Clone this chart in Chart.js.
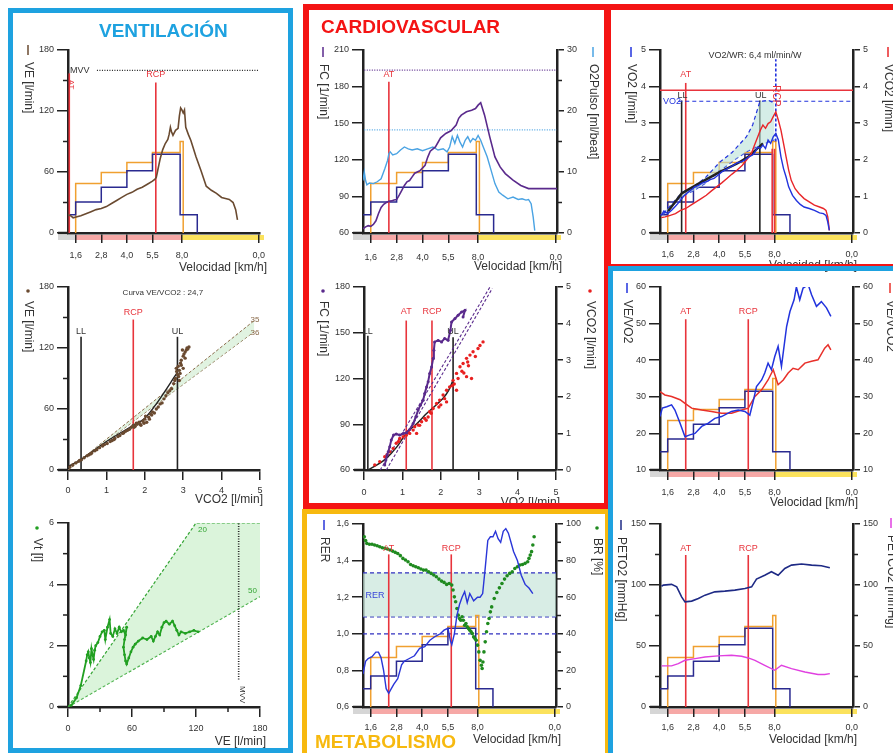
<!DOCTYPE html>
<html lang="es">
<head>
<meta charset="utf-8">
<title>Ergoespirometría - 9 paneles</title>
<script src="https://cdn.jsdelivr.net/npm/chart.js@4.4.1/dist/chart.umd.min.js"></script>
<style>
  html, body { margin: 0; padding: 0; background: #fff; }
  body { position: relative; width: 893px; height: 753px; overflow: hidden; font-family: "Liberation Sans", Arial, sans-serif; }
  canvas { position: absolute; }
  .marco { position: absolute; box-sizing: border-box; z-index: 5; }
  .titulo { position: absolute; font-size: 19px; font-weight: bold; line-height: 19px; white-space: nowrap; z-index: 6; }
</style>
</head>
<body>
<div class="marco" style="left:8px;top:8px;width:285px;height:745px;border:5px solid #1ea2e0;"></div>
<div class="marco" style="left:303px;top:4px;width:307px;height:505px;border:6px solid #f41414;"></div>
<div class="marco" style="left:302px;top:509px;width:308px;height:260px;border:5px solid #f7b90f;"></div>
<div class="marco" style="left:605px;top:4px;width:300px;height:266px;border:6px solid #f41414;"></div>
<div class="marco" style="left:608px;top:266px;width:300px;height:500px;border:5px solid #1ea2e0;"></div>
<div class="titulo" style="left:99px;top:21px;color:#1ea2e0">VENTILACIÓN</div>
<div class="titulo" style="left:321px;top:17px;color:#f41414">CARDIOVASCULAR</div>
<div class="titulo" style="left:315px;top:732px;color:#f7b90f">METABOLISMO</div>

<script>
// ============================
// Colores y fuente
// ============================
const FUENTE = '"Liberation Sans", Arial, sans-serif';
const NEGRO = '#222';
const GRIS = '#333';
const ROJO = '#e8343c';
const AZUL = '#2233dd';
const NAVY = '#2a2a90';
const NARANJA = '#f0a030';
const MARRON = '#6a4a30';
const MORADO = '#5a2a8c';
const CELESTE = '#4aa3e3';
const VERDE = '#1f8a1f';
const VERDE_VT = '#22a022';
const MAGENTA = '#e040e0';

Chart.defaults.font.family = FUENTE;
Chart.defaults.color = GRIS;
Chart.defaults.events = [];

// ============================
// Eje de tiempo compartido (etapas de velocidad)
// ============================
const etapas = ['1,6', '2,8', '4,0', '5,5', '8,0', '0,0'];
const posEtapas = [0.3, 1.3, 2.3, 3.3, 4.45, 7.45];

const tAT = 1.0;
const tRCP = 3.43;
const tLL = 0.84;
const tUL = 3.88;

// escalones del protocolo, en fracción de la altura del eje
const pasoAzulT = [0, 0.3, 1.3, 2.3, 3.3, 4.38, 5.05];
const pasoAzul = [0.1, 0.17, 0.25, 0.34, 0.43, 0.1, 0];
const pasoNaranjaT = [0.3, 0.3, 1.3, 2.3, 3.3, 4.38, 4.5];
const pasoNaranja = [0, 0.27, 0.33, 0.385, 0.44, 0.5, 0];

// ============================
// Datos - VENTILACIÓN
// ============================
const veT = [0, 0.1, 0.2, 0.35, 0.5, 0.7, 0.9, 1.1, 1.3, 1.5, 1.7, 1.9, 2.1, 2.3, 2.5, 2.7, 2.9, 3.1, 3.3, 3.4,
  3.45, 3.5, 3.55, 3.6, 3.7, 3.8, 3.9, 3.95, 4.0, 4.05, 4.1, 4.2, 4.3, 4.35, 4.4, 4.45, 4.5, 4.55, 4.6, 4.7,
  4.8, 5.0, 5.2, 5.4, 5.6, 5.8, 6.0, 6.15, 6.3, 6.45, 6.55, 6.62];
const ve = [18, 17, 15, 16, 17, 19, 21, 23, 24, 26, 29, 32, 35, 38, 40, 43, 45, 48, 51, 53,
  55, 61, 67, 73, 82, 88, 92, 97, 104, 99, 96, 101, 103, 115, 123, 121, 118, 121, 104, 97,
  91, 75, 61, 46, 42, 39, 35, 34, 33, 30, 23, 13];

const vco2Nube = [0.05, 0.12, 0.2, 0.28, 0.35, 0.42, 0.5, 0.55, 0.62, 0.7, 0.75, 0.82, 0.9, 0.95, 1.02,
  1.1, 1.15, 1.22, 1.3, 1.35, 1.42, 1.5, 1.55, 1.6, 1.65, 1.7, 1.75, 1.8, 1.85, 1.9,
  1.95, 2.0, 2.05, 2.1, 2.15, 2.2, 2.3, 2.4, 2.5, 2.55, 2.6, 2.7, 2.75, 2.8, 2.85,
  2.9, 2.82, 2.95, 3.0, 2.88, 2.95, 3.0, 3.05, 2.98, 3.1, 3.15, 3.05, 2.92,
  0.3, 0.6, 0.9, 1.2, 1.45, 1.72, 1.78, 1.88, 1.98, 2.02, 2.12, 2.18, 2.25, 2.35, 2.45,
  2.65, 2.78, 2.83, 2.87, 2.9, 2.93, 3.02, 3.08, 3.12];
const veNube = [3, 5, 7, 8.5, 10, 12, 14, 15, 17, 19, 20, 22, 23.5, 25, 26,
  28, 29, 31, 33, 34, 36, 38, 39, 40, 42, 44, 43, 45, 47, 44,
  48, 50, 47, 52, 55, 57, 60, 65, 70, 73, 76, 80, 85, 90, 94,
  98, 100, 103, 100, 92, 108, 112, 116, 118, 120, 121, 110, 95,
  9.5, 16, 24.5, 30, 36.5, 42, 46, 45, 46, 53, 50, 54, 56, 62, 66,
  78, 88, 97, 102, 88, 105, 114, 118, 119];
const curvaVcoX = [0, 0.39, 1.0, 1.7, 2.0, 2.3, 2.83];
const curvaVcoY = [3.3, 11.5, 28, 44, 51, 65, 95];
const banda35X = [0, 4.85];
const banda35Y = [0, 147];
const banda36X = [0, 4.85];
const banda36Y = [0, 136];

const vtVE = [3, 8, 12, 17, 18, 19, 20, 21, 22, 23, 24, 25, 26, 28, 30, 32, 34, 35, 37, 39,
  40, 42, 44, 46, 48, 50, 52, 54, 55, 53, 52, 53, 54, 55, 57, 59, 61, 63, 66, 70,
  74, 78, 80, 82, 84, 86, 88, 90, 92, 95, 98, 100, 102, 104, 106, 110, 114, 118, 122];
const vt = [0.05, 0.3, 0.7, 1.5, 1.7, 1.8, 1.6, 1.45, 1.9, 1.7, 1.55, 1.85, 2.0, 2.1, 2.3, 2.45, 2.5, 2.2, 2.6, 2.85,
  2.4, 2.3, 2.55, 2.4, 2.6, 2.45, 2.5, 2.35, 2.6, 2.2, 1.95, 1.7, 1.5, 1.4, 1.6, 1.8, 1.95, 2.05, 2.15, 2.25,
  2.2, 2.3, 2.15, 2.3, 2.45, 2.35, 2.6, 2.75, 2.8, 2.7, 2.8, 2.65, 2.5, 2.35, 2.45, 2.4, 2.45, 2.5, 2.45];
const iso20X = [0, 120, 180];
const iso20Y = [0, 6, 6];
const iso50X = [0, 180];
const iso50Y = [0, 3.6];

// ============================
// Datos - CARDIOVASCULAR
// ============================
const fcT = [0, 0.1, 0.2, 0.3, 0.4, 0.5, 0.6, 0.7, 0.8, 0.9, 1.0, 1.1, 1.2, 1.3, 1.4, 1.5, 1.6, 1.7, 1.8, 1.9,
  2.0, 2.2, 2.4, 2.5, 2.6, 2.8, 3.0, 3.2, 3.4, 3.6, 3.7, 3.8, 4.0, 4.2, 4.35, 4.45, 4.55, 4.7, 4.9, 5.1,
  5.3, 5.5, 5.8, 6.1, 6.4, 6.6, 7.0, 7.5];
const fc = [63.5, 65, 66, 65.5, 67, 70, 76, 81, 83.5, 85, 86, 86.3, 87, 87.4, 91, 95, 99, 102, 103, 106,
  109, 111, 115.5, 122, 127, 130.6, 138, 141.6, 143.8, 148.4, 154, 156.6, 159.4, 160.7, 162, 164.8, 166.8, 156.6, 138.8, 122.4,
  114.2, 108.7, 103.3, 99, 96.4, 96.4, 96.4, 96.4];

const o2T = [0, 0.05, 0.1, 0.15, 0.25, 0.4, 0.55, 0.7, 0.85, 0.95, 1.0, 1.05, 1.15, 1.3, 1.45, 1.6, 1.75, 1.9, 2.1, 2.3,
  2.5, 2.7, 2.9, 3.1, 3.25, 3.35, 3.45, 3.55, 3.65, 3.75, 3.85, 3.95, 4.05, 4.15, 4.25, 4.35, 4.45, 4.55, 4.65, 4.8,
  4.95, 5.1, 5.25, 5.4, 5.6, 5.8, 6.0, 6.15, 6.3, 6.4, 6.5, 6.58, 6.64];
const o2Pulso = [8.6, 10, 8.6, 7.9, 8.2, 8.1, 8.4, 8.9, 10.6, 11.9, 13, 13.3, 12.8, 13, 13.6, 14.1, 13.8, 13.6, 13.8, 13.5,
  13.8, 14.1, 13.6, 13.8, 13.3, 14.1, 15.8, 14.7, 16, 14.9, 14.1, 15.2, 15.8, 14.9, 15.5, 15.2, 16, 15.2, 14.1, 12.5,
  10.3, 8.1, 6.7, 6.2, 5.6, 5.9, 5.5, 5.6, 5.4, 5.5, 4.8, 2.6, 0.4];
const fcMax = 193.5;
const o2PulsoPred = 16.9;

const fcVo2 = [0.54, 0.57, 0.6, 0.63, 0.67, 0.71, 0.77, 0.84, 0.93, 1.02, 1.1, 1.19, 1.28, 1.35, 1.41, 1.47, 1.54, 1.58,
  1.63, 1.67, 1.71, 1.76, 1.8, 1.82, 1.84, 1.93, 2.02, 2.1, 2.19, 2.25, 2.28, 2.37, 2.45, 2.54, 2.63, 2.58];
const fcNube = [63.3, 66.5, 69.8, 72, 75.3, 79.6, 82.9, 83.6, 82.9, 84, 84.4, 86.6, 90.5, 94.9, 99.3, 102.5, 105.8, 110.2,
  114.5, 117.8, 123.3, 127.6, 133.1, 138.5, 144, 145, 144, 146.2, 145.1, 151.6, 157.1, 159.3, 161.5, 163.6, 164.7, 160.4];
const vcVo2 = [0.28, 0.41, 0.54, 0.67, 0.76, 0.84, 0.93, 1.02, 1.1, 1.19, 1.28, 1.32, 1.41, 1.5, 1.58, 1.67, 1.71, 1.8,
  1.89, 1.97, 2.06, 2.15, 2.23, 2.32, 2.41, 2.5, 2.58, 2.67, 2.76, 2.84, 2.97, 3.1, 2.67, 2.8, 2.41, 2.15, 1.37,
  0.6, 0.9, 1.15, 1.45, 1.62, 1.75, 1.95, 2.1, 2.3, 2.45, 2.55, 2.7, 2.9, 3.02, 2.6, 2.72, 2.35, 2.0];
const vcNube = [0.14, 0.23, 0.36, 0.5, 0.59, 0.73, 0.86, 0.91, 0.95, 1.0, 1.09, 1.18, 1.23, 1.32, 1.41, 1.45, 1.59, 1.68,
  1.82, 1.91, 2.05, 2.18, 2.27, 2.45, 2.64, 2.82, 2.91, 3.05, 3.14, 3.23, 3.32, 3.5, 2.55, 2.5, 2.18, 1.86, 1.0,
  0.42, 0.78, 1.05, 1.22, 1.36, 1.55, 1.72, 1.95, 2.3, 2.5, 2.7, 2.95, 3.1, 3.4, 2.65, 2.85, 2.35, 1.78];
const curvaFcX = [0.1, 0.35, 0.58, 0.85, 1.1, 1.4, 1.63, 1.85, 2.06, 2.2, 2.32];
const curvaFcY = [60, 63.5, 67.6, 75, 84, 91, 97, 102, 107, 112, 119];
const rectaAX = [0.42, 3.28];
const rectaAY = [60, 180];
const rectaBX = [0.58, 3.34];
const rectaBY = [60, 179];

// ============================
// Datos - METABOLISMO
// ============================
const rerT = [0, 0.1, 0.2, 0.35, 0.5, 0.6, 0.7, 0.8, 0.9, 1.0, 1.1, 1.2, 1.35, 1.5, 1.6, 1.8, 2.0, 2.2, 2.4, 2.6,
  2.8, 3.0, 3.15, 3.3, 3.4, 3.45, 3.55, 3.65, 3.75, 3.85, 3.95, 4.05, 4.15, 4.3, 4.45, 4.55, 4.65, 4.75, 4.85, 4.95,
  5.05, 5.15, 5.25, 5.35, 5.45, 5.55, 5.65, 5.75, 5.85, 6.0, 6.15, 6.3, 6.45, 6.6];
const rer = [0.78, 0.85, 0.865, 0.875, 0.9, 0.9, 0.87, 0.8, 0.7, 0.675, 0.7, 0.725, 0.755, 0.83, 0.85, 0.865, 0.88, 0.92, 0.93, 0.965,
  0.985, 1.0, 1.02, 1.03, 0.96, 0.94, 1.0, 1.1, 1.16, 1.2, 1.23, 1.17, 1.22, 1.18, 1.2, 1.2, 1.22, 1.36, 1.51, 1.53,
  1.53, 1.56, 1.52, 1.5, 1.56, 1.575, 1.55, 1.5, 1.45, 1.4, 1.32, 1.27, 1.25, 1.22];
const brT = [0.05, 0.1, 0.15, 0.25, 0.35, 0.45, 0.55, 0.65, 0.75, 0.85, 0.95, 1.05, 1.15, 1.25, 1.35, 1.45, 1.55, 1.65,
  1.75, 1.85, 1.95, 2.05, 2.15, 2.25, 2.35, 2.45, 2.55, 2.65, 2.75, 2.85, 2.95, 3.05, 3.15, 3.25, 3.35, 3.45,
  3.5, 3.55, 3.6, 3.65, 3.7, 3.75, 3.8, 3.85, 3.9, 3.95, 4.0, 4.05, 4.1, 4.15, 4.2, 4.25, 4.3, 4.35, 4.4,
  4.45, 4.5, 4.55, 4.6, 4.63, 4.66, 4.7, 4.75, 4.8, 4.85, 4.9, 4.95, 5.0, 5.1, 5.2, 5.3, 5.4, 5.5, 5.6, 5.7,
  5.8, 5.9, 6.0, 6.1, 6.2, 6.3, 6.4, 6.45, 6.5, 6.55, 6.6, 6.65];
const br = [93, 91, 89.4, 88.9, 88.9, 88.5, 88.1, 87.6, 87, 86.7, 86.3, 85.8, 85.2, 84.5, 83.9, 82.7, 81.2, 80.3,
  79.4, 77.9, 77.2, 76.6, 76.1, 75.4, 74.8, 74.8, 73.9, 73, 72.1, 71.2, 69.9, 68.8, 68.1, 67, 67.5, 66.6,
  63.9, 60.2, 57.5, 53.8, 50.2, 48.4, 47.4, 49.3, 47.4, 44.7, 45.6, 43.8, 42.9, 42, 41.1, 40.1, 38.3, 37.4, 36.5,
  33.8, 30.1, 25.5, 22.8, 21, 24.6, 30.1, 35.6, 41.1, 45.6, 48.4, 52, 54.7, 59.3, 62.6, 65.1, 67.5, 69.9, 71.7, 73,
  73.9, 75.7, 76.6, 77.6, 77.9, 78.5, 79.4, 81.2, 83, 84.9, 88.5, 93];
const rerAlto = 1.333;
const rerMedio = 1.093;
const rerUno = 1.0;

// ============================
// Datos - VO2 / VCO2 y equivalentes
// ============================
const vo2T = [0.05, 0.15, 0.3, 0.45, 0.6, 0.75, 0.9, 1.05, 1.2, 1.35, 1.5, 1.65, 1.8, 1.95, 2.1, 2.25, 2.4, 2.55, 2.7, 2.85,
  3.0, 3.15, 3.3, 3.45, 3.6, 3.7, 3.8, 3.9, 4.0, 4.1, 4.2, 4.3, 4.4, 4.5, 4.6, 4.7, 4.8, 4.9, 5.0, 5.15,
  5.3, 5.45, 5.6, 5.8, 6.0, 6.2, 6.35, 6.45, 6.52, 6.58];
const vo2 = [0.48, 0.6, 0.53, 0.62, 0.73, 0.85, 0.99, 1.09, 1.17, 1.26, 1.3, 1.37, 1.4, 1.46, 1.49, 1.58, 1.67, 1.73, 1.79, 1.85,
  1.92, 1.94, 2.0, 2.08, 2.13, 2.22, 2.35, 2.31, 2.4, 2.31, 2.54, 2.45, 2.63, 2.72, 2.54, 2.08, 1.76, 1.53, 1.26, 1.03,
  0.89, 0.78, 0.71, 0.67, 0.62, 0.55, 0.53, 0.48, 0.3, 0.07];
const vco2T = [0.05, 0.2, 0.4, 0.6, 0.8, 1.0, 1.2, 1.4, 1.6, 1.8, 2.0, 2.2, 2.4, 2.6, 2.8, 3.0, 3.2, 3.4, 3.55, 3.7,
  3.8, 3.9, 4.0, 4.1, 4.2, 4.3, 4.4, 4.5, 4.6, 4.7, 4.8, 4.9, 5.0, 5.1, 5.25, 5.4, 5.6, 5.8, 6.0, 6.2,
  6.35, 6.45, 6.52, 6.58];
const vco2 = [0.42, 0.44, 0.48, 0.53, 0.62, 0.67, 0.76, 0.85, 0.94, 1.03, 1.15, 1.26, 1.37, 1.49, 1.61, 1.72, 1.85, 2.03, 2.17, 2.45,
  2.63, 2.81, 2.95, 2.86, 2.99, 3.04, 3.18, 3.31, 3.08, 2.81, 2.45, 2.08, 1.72, 1.44, 1.21, 1.08, 0.94, 0.85, 0.76, 0.71,
  0.67, 0.62, 0.44, 0.07];
const predSupT = [0.13, 0.84, 1.29, 1.75, 2.33, 2.8, 3.36, 3.6, 3.88, 4.2, 4.45];
const predSup = [0.53, 1.1, 1.26, 1.5, 1.94, 2.2, 2.63, 2.95, 3.59, 3.63, 3.55];
const predInfT = [0.13, 0.84, 1.29, 1.75, 2.33, 2.8, 3.36, 3.6, 3.88, 4.2, 4.45];
const predInf = [0.5, 1.0, 1.15, 1.35, 1.7, 1.95, 2.22, 2.3, 2.4, 2.48, 2.55];
const regT = [0.32, 0.84, 1.5, 2.33, 3.0, 3.43, 4.0];
const reg = [0.6, 1.08, 1.35, 1.67, 1.9, 2.08, 2.45];
const vo2Max = 3.9;
const vo2Pred = 3.6;

const eqO2T = [0, 0.09, 0.26, 0.45, 0.58, 0.78, 0.97, 1.16, 1.36, 1.62, 1.88, 2.13, 2.39, 2.78, 3.04, 3.3, 3.49, 3.62, 3.75,
  3.95, 4.07, 4.2, 4.33, 4.46, 4.59, 4.72, 4.92, 5.05, 5.21, 5.3, 5.43, 5.56, 5.76, 5.89, 6.08, 6.27, 6.47, 6.64];
const eqO2 = [24.6, 26.9, 27.3, 27.8, 26.4, 22.8, 19.1, 19.6, 20, 21.9, 22.8, 24.1, 24.6, 26, 26.4, 26, 25, 28.7, 32.8,
  34.6, 36.5, 39.2, 37.4, 41, 43.8, 38.3, 49.2, 53.3, 56.5, 60, 56.5, 59.7, 60.6, 57.9, 54.7, 56, 54.3, 52];
const eqCO2T = [0, 0.19, 0.45, 0.78, 0.97, 1.23, 1.62, 2.0, 2.39, 2.78, 3.17, 3.43, 3.69, 3.95, 4.2, 4.4, 4.59, 4.79,
  4.98, 5.17, 5.37, 5.63, 5.89, 6.14, 6.4, 6.53, 6.64];
const eqCO2 = [31.4, 30.5, 30.1, 29.2, 28.2, 26.9, 26.4, 26, 25.5, 25.5, 26.4, 26.9, 30.1, 31.9, 34.6, 37.4, 33.3, 34.6,
  36.5, 37.8, 37.4, 39.2, 39.7, 40.1, 43.3, 44.2, 42.8];

const peto2T = [0.06, 0.13, 0.45, 0.65, 0.84, 0.97, 1.23, 1.49, 1.75, 2.13, 2.52, 2.91, 3.3, 3.56, 3.75, 4.07, 4.33, 4.59,
  4.85, 5.11, 5.5, 5.89, 6.27, 6.6];
const peto2 = [99, 99.9, 100.5, 98.5, 90.3, 86.2, 86.8, 89, 91.7, 94.4, 95, 95.8, 97.2, 98.5, 104.8, 108, 110.9, 108,
  113.6, 116.3, 117.2, 116.3, 115.8, 114.2];
const petco2T = [0.06, 0.45, 0.71, 0.97, 1.36, 1.75, 2.26, 2.78, 3.17, 3.43, 3.69, 4.07, 4.46, 4.72, 5.11, 5.63, 6.14, 6.4, 6.6];
const petco2 = [33.7, 33.7, 35.6, 38.3, 39.7, 41, 41.9, 42.4, 41.6, 40.2, 38.3, 34.2, 30.1, 34.2, 31.5, 28.7, 26.6, 26.6, 27.4];

// ============================
// Ayudas para datasets
// ============================
function pares(xs, ys) {
  return xs.map((x, i) => ({x: x, y: ys[i]}));
}

function traza(xs, ys, color, extra) {
  return Object.assign({
    data: pares(xs, ys), borderColor: color, borderWidth: 1.4,
    pointRadius: 0, fill: false, tension: 0
  }, extra);
}

function nube(xs, ys, color, extra) {
  return Object.assign({
    data: pares(xs, ys), showLine: false, borderColor: color,
    pointRadius: 1.6, pointBackgroundColor: color, pointBorderWidth: 0
  }, extra);
}

function vertical(x, y0, y1, color, eje, dash) {
  return traza([x, x], [y0, y1], color, {borderWidth: 1.6, yAxisID: eje || 'y', borderDash: dash || []});
}

function horizontal(x0, x1, y, color, dash, eje, extra) {
  return traza([x0, x1], [y, y], color, Object.assign({borderWidth: 1.2, yAxisID: eje || 'y', borderDash: dash || []}, extra));
}

function escalones() {
  return [
    traza(pasoAzulT, pasoAzul, NAVY, {stepped: true, yAxisID: 'yp', borderWidth: 1.5}),
    traza(pasoNaranjaT, pasoNaranja, NARANJA, {stepped: true, yAxisID: 'yp', borderWidth: 1.5})
  ];
}

// ============================
// Ejes
// ============================
function fmtComa(v) {
  return String(Math.round(v * 100) / 100).replace('.', ',');
}

function fmtUnDecimal(v) {
  return v.toFixed(1).replace('.', ',');
}

function ejeY(pos, min, max, paso, fmt) {
  const izq = pos === 'left';
  return {
    type: 'linear', position: pos, min: min, max: max,
    grid: {drawOnChartArea: false, color: NEGRO, lineWidth: 1.5, tickLength: izq ? 11 : 7},
    border: {display: true, color: NEGRO, width: 2.5},
    ticks: {stepSize: paso, padding: 3, color: GRIS, font: {size: 9}, callback: fmt || fmtComa}
  };
}

function ejeX(min, max, paso, pad) {
  return {
    type: 'linear', position: 'bottom', min: min, max: max,
    grid: {drawOnChartArea: false, color: NEGRO, lineWidth: 1.5, tickLength: 10},
    border: {display: true, color: NEGRO, width: 2.5},
    ticks: {stepSize: paso, padding: pad, color: GRIS, font: {size: 9}, maxRotation: 0, autoSkip: false, callback: fmtComa}
  };
}

function ejeTiempo(pad) {
  const e = ejeX(0, 7.5, 1, pad);
  e.afterBuildTicks = s => { s.ticks = posEtapas.map(v => ({value: v})); };
  e.ticks.callback = (v, i) => etapas[i];
  return e;
}

function ejeOculto() {
  return {type: 'linear', display: false, min: 0, max: 1};
}

// ============================
// Plugin: banda de etapas, marcas menores, textos y títulos
// ============================
const decor = {
  id: 'decor',
  beforeDraw(chart, args, o) {
    const ctx = chart.ctx, a = chart.chartArea;
    ctx.save();
    if (o.banda) {
      const sx = chart.scales.x;
      const x1 = sx.getPixelForValue(posEtapas[0]);
      const x2 = sx.getPixelForValue(posEtapas[4]);
      const y = a.bottom + 2;
      ctx.fillStyle = '#d6d6d6';
      ctx.fillRect(a.left - 10, y, x1 - a.left + 10, 5);
      ctx.fillStyle = '#f6a8a6';
      ctx.fillRect(x1, y, x2 - x1, 5);
      ctx.fillStyle = '#fbe25c';
      ctx.fillRect(x2, y, a.right + 4 - x2, 5);
    }
    // el eje x sobresale un poco a la izquierda
    ctx.strokeStyle = NEGRO;
    ctx.lineWidth = 2.5;
    ctx.beginPath();
    ctx.moveTo(a.left - 10, a.bottom);
    ctx.lineTo(a.left, a.bottom);
    ctx.stroke();
    ctx.restore();
  },
  afterDatasetsDraw(chart, args, o) {
    const ctx = chart.ctx;
    (o.textos || []).forEach(t => {
      const px = chart.scales.x.getPixelForValue(t.x);
      const py = chart.scales[t.eje || 'y'].getPixelForValue(t.y);
      ctx.save();
      ctx.font = (t.tam || 9) + 'px ' + FUENTE;
      ctx.fillStyle = t.color || GRIS;
      ctx.textAlign = t.alinear || 'center';
      ctx.textBaseline = 'middle';
      ctx.translate(px, py);
      if (t.girar) ctx.rotate(Math.PI / 2);
      ctx.fillText(t.texto, 0, 0);
      ctx.restore();
    });
  },
  afterDraw(chart, args, o) {
    const ctx = chart.ctx, a = chart.chartArea;
    ctx.save();
    ctx.strokeStyle = NEGRO;
    ctx.lineWidth = 1.5;
    (o.menores || []).forEach(m => {
      const s = chart.scales[m.eje];
      for (let v = s.min; v <= s.max + 1e-9; v += m.paso) {
        const r = v / m.mayor;
        if (Math.abs(r - Math.round(r)) < 1e-6) continue;
        const p = s.getPixelForValue(v);
        ctx.beginPath();
        if (s.axis === 'x') { ctx.moveTo(p, a.bottom); ctx.lineTo(p, a.bottom + 5); }
        else if (s.position === 'left') { ctx.moveTo(a.left - 5, p); ctx.lineTo(a.left, p); }
        else { ctx.moveTo(a.right, p); ctx.lineTo(a.right + 5, p); }
        ctx.stroke();
      }
    });
    ctx.restore();

    (o.titulos || []).forEach(t => {
      const x = t.x - o.caja[0], y = t.y - o.caja[1];
      ctx.save();
      ctx.font = '12px ' + FUENTE;
      ctx.textBaseline = 'middle';
      if (t.vertical) {
        ctx.translate(x, y);
        ctx.rotate(Math.PI / 2);
        let pos = 0;
        if (t.marca === 'linea') {
          ctx.strokeStyle = t.color;
          ctx.lineWidth = 1.5;
          ctx.beginPath();
          ctx.moveTo(0, 0);
          ctx.lineTo(10, 0);
          ctx.stroke();
          pos = 17;
        } else if (t.marca === 'punto') {
          ctx.fillStyle = t.color;
          ctx.beginPath();
          ctx.arc(4, 0, 1.8, 0, 2 * Math.PI);
          ctx.fill();
          pos = 14;
        }
        ctx.fillStyle = GRIS;
        ctx.textAlign = 'left';
        ctx.fillText(t.texto, pos, 0);
      } else {
        ctx.fillStyle = GRIS;
        ctx.textAlign = 'right';
        ctx.fillText(t.texto, x, y);
      }
      ctx.restore();
    });
  }
};

// ============================
// Creación de cada panel
// caja = lienzo en la página, area = zona de trazado
// ============================
function crearPanel(caja, area, escalas, datasets, opts) {
  const lienzo = document.createElement('canvas');
  const ancho = caja[2] - caja[0], alto = caja[3] - caja[1];
  lienzo.width = ancho;
  lienzo.height = alto;
  lienzo.style.left = caja[0] + 'px';
  lienzo.style.top = caja[1] + 'px';
  lienzo.style.width = ancho + 'px';
  lienzo.style.height = alto + 'px';
  document.body.appendChild(lienzo);

  escalas.x.afterFit = s => { s.height = caja[3] - area[3]; };
  escalas.y.afterFit = s => { s.width = area[0] - caja[0]; };
  if (escalas.y2) escalas.y2.afterFit = s => { s.width = caja[2] - area[2]; };

  opts.caja = caja;
  return new Chart(lienzo, {
    type: 'line',
    data: {datasets: datasets},
    options: {
      responsive: false,
      animation: false,
      devicePixelRatio: 1,
      layout: {
        autoPadding: false,
        padding: {top: area[1] - caja[1], left: 0, bottom: 0, right: escalas.y2 ? 0 : caja[2] - area[2]}
      },
      scales: escalas,
      plugins: {legend: {display: false}, tooltip: {enabled: false}, decor: opts}
    },
    plugins: [decor]
  });
}

// ---- VE en el tiempo
crearPanel([14, 36, 292, 276], [68, 50, 260, 233],
  {x: ejeTiempo(7), y: ejeY('left', 0, 180, 60), yp: ejeOculto()},
  [
    traza(veT, ve, MARRON, {borderWidth: 1.6}),
    vertical(tRCP, 0, 148, ROJO),
    vertical(0.05, 0, 157, ROJO),
    horizontal(1.13, 7.45, 160, NEGRO, [1, 1.5]),
    ...escalones()
  ],
  {
    banda: true,
    menores: [{eje: 'y', paso: 30, mayor: 60}],
    textos: [
      {x: tRCP, y: 156, texto: 'RCP', color: ROJO},
      {x: 0.08, y: 160, texto: 'MVV', alinear: 'left'},
      {x: 0.12, y: 146, texto: 'AT', color: ROJO, girar: true, tam: 8}
    ],
    titulos: [
      {x: 28, y: 45, texto: 'VE [l/min]', marca: 'linea', color: MARRON, vertical: true},
      {x: 267, y: 268, texto: 'Velocidad [km/h]'}
    ]
  });

// ---- VE frente a VCO2
crearPanel([14, 278, 292, 508], [68, 287, 260, 470],
  {x: ejeX(0, 5, 1, 5), y: ejeY('left', 0, 180, 60)},
  [
    nube(vco2Nube, veNube, MARRON, {pointRadius: 1.7}),
    traza(curvaVcoX, curvaVcoY, NEGRO, {borderWidth: 1.4, tension: 0.3}),
    vertical(0.34, 0, 131, NEGRO),
    vertical(1.7, 0, 148, ROJO),
    vertical(2.85, 0, 131, NEGRO),
    traza(banda35X, banda35Y, '#8a6a4a', {borderDash: [3, 2], borderWidth: 1, fill: '+1', backgroundColor: 'rgba(205,235,205,0.6)'}),
    traza(banda36X, banda36Y, '#8a6a4a', {borderDash: [3, 2], borderWidth: 1})
  ],
  {
    menores: [{eje: 'y', paso: 30, mayor: 60}],
    textos: [
      {x: 2.47, y: 174, texto: 'Curva VE/VCO2 : 24,7', tam: 8},
      {x: 0.34, y: 136, texto: 'LL'},
      {x: 1.7, y: 155, texto: 'RCP', color: ROJO},
      {x: 2.85, y: 136, texto: 'UL'},
      {x: 4.87, y: 148, texto: '35', color: '#8a6a4a', tam: 8},
      {x: 4.87, y: 135, texto: '36', color: '#8a6a4a', tam: 8}
    ],
    titulos: [
      {x: 28, y: 287, texto: 'VE [l/min]', marca: 'punto', color: MARRON, vertical: true},
      {x: 263, y: 500, texto: 'VCO2 [l/min]'}
    ]
  });

// ---- Vt frente a VE
crearPanel([14, 512, 292, 750], [68, 523, 260, 707],
  {x: ejeX(0, 180, 60, 6), y: ejeY('left', 0, 6, 2)},
  [
    traza(vtVE, vt, VERDE_VT, {borderWidth: 1.8, pointRadius: 1.4, pointBackgroundColor: VERDE_VT, pointBorderWidth: 0}),
    vertical(160, 0.9, 6, NEGRO, 'y', [1, 1.5]),
    traza(iso20X, iso20Y, '#35a535', {borderDash: [3, 2], borderWidth: 1.2, fill: '+1', backgroundColor: 'rgba(190,235,190,0.55)'}),
    traza(iso50X, iso50Y, '#35a535', {borderDash: [3, 2], borderWidth: 1.2})
  ],
  {
    menores: [{eje: 'y', paso: 1, mayor: 2}, {eje: 'x', paso: 30, mayor: 60}],
    textos: [
      {x: 126, y: 5.78, texto: '20', color: '#35a535', tam: 8},
      {x: 173, y: 3.79, texto: '50', color: '#35a535', tam: 8},
      {x: 163, y: 0.4, texto: 'MVV', girar: true, tam: 8}
    ],
    titulos: [
      {x: 37, y: 524, texto: 'Vt [l]', marca: 'punto', color: VERDE_VT, vertical: true},
      {x: 266, y: 742, texto: 'VE [l/min]'}
    ]
  });

// ---- FC y pulso de O2 en el tiempo
crearPanel([308, 36, 604, 276], [363, 50, 557, 233],
  {x: ejeTiempo(9), y: ejeY('left', 60, 210, 30), y2: ejeY('right', 0, 30, 10), yp: ejeOculto()},
  [
    traza(fcT, fc, MORADO, {borderWidth: 1.6}),
    traza(o2T, o2Pulso, CELESTE, {yAxisID: 'y2'}),
    vertical(tAT, 60, 184, ROJO),
    horizontal(0.05, 7.5, fcMax, MORADO, [1, 1.5]),
    horizontal(0.05, 7.5, o2PulsoPred, CELESTE, [1, 1.5], 'y2'),
    ...escalones()
  ],
  {
    banda: true,
    menores: [{eje: 'y2', paso: 5, mayor: 10}],
    textos: [{x: tAT, y: 189.5, texto: 'AT', color: ROJO}],
    titulos: [
      {x: 323, y: 47, texto: 'FC [1/min]', marca: 'linea', color: MORADO, vertical: true},
      {x: 593, y: 47, texto: 'O2Pulso [ml/beat]', marca: 'linea', color: CELESTE, vertical: true},
      {x: 562, y: 267, texto: 'Velocidad [km/h]'}
    ]
  });

// ---- FC y VCO2 frente a VO2
crearPanel([308, 278, 604, 512], [364, 287, 556, 470],
  {x: ejeX(0, 5, 1, 7), y: ejeY('left', 60, 180, 30), y2: ejeY('right', 0, 5, 1)},
  [
    traza(fcVo2, fcNube, MORADO, {borderWidth: 2, pointRadius: 1.5, pointBackgroundColor: MORADO, pointBorderWidth: 0}),
    nube(vcVo2, vcNube, '#e82020', {yAxisID: 'y2', pointRadius: 1.7}),
    traza(curvaFcX, curvaFcY, NEGRO, {borderWidth: 1.5, tension: 0.3}),
    traza(rectaAX, rectaAY, MORADO, {borderDash: [3, 2], borderWidth: 1.1}),
    traza(rectaBX, rectaBY, MORADO, {borderDash: [3, 2], borderWidth: 1.1}),
    vertical(0.1, 60, 148, NEGRO),
    vertical(1.1, 60, 158, ROJO),
    vertical(1.77, 60, 158, ROJO),
    vertical(2.32, 60, 147, NEGRO)
  ],
  {
    textos: [
      {x: 0.1, y: 150.5, texto: 'LL'},
      {x: 1.1, y: 163.6, texto: 'AT', color: ROJO},
      {x: 1.77, y: 163.6, texto: 'RCP', color: ROJO},
      {x: 2.32, y: 150.5, texto: 'UL'}
    ],
    titulos: [
      {x: 323, y: 287, texto: 'FC [1/min]', marca: 'punto', color: MORADO, vertical: true},
      {x: 590, y: 287, texto: 'VCO2 [l/min]', marca: 'punto', color: '#e82020', vertical: true},
      {x: 560, y: 503, texto: 'VO2 [l/min]'}
    ]
  });

// ---- RER y reserva respiratoria
crearPanel([308, 515, 604, 750], [363, 524, 556, 707],
  {x: ejeTiempo(5), y: ejeY('left', 0.6, 1.6, 0.2, fmtUnDecimal), y2: ejeY('right', 0, 100, 20), yp: ejeOculto()},
  [
    traza(rerT, rer, '#2a36d8', {borderWidth: 1.4}),
    nube(brT, br, VERDE, {yAxisID: 'y2', pointRadius: 1.8}),
    vertical(tAT, 0.6, 1.434, ROJO),
    vertical(tRCP, 0.6, 1.434, ROJO),
    ...escalones(),
    horizontal(0, 7.5, rerAlto, '#3030c0', [4, 3], 'y', {fill: {value: rerMedio}, backgroundColor: 'rgba(195,228,215,0.65)'}),
    horizontal(0, 7.5, rerMedio, '#3030c0', [4, 3]),
    horizontal(0, 7.5, rerUno, '#3030c0', [4, 3])
  ],
  {
    banda: true,
    menores: [{eje: 'y2', paso: 10, mayor: 20}],
    textos: [
      {x: 0.1, y: 1.211, texto: 'RER', color: '#3a46d8', alinear: 'left'},
      {x: tAT, y: 1.467, texto: 'AT', color: ROJO},
      {x: tRCP, y: 1.467, texto: 'RCP', color: ROJO}
    ],
    titulos: [
      {x: 324, y: 520, texto: 'RER', marca: 'linea', color: '#2a36d8', vertical: true},
      {x: 597, y: 524, texto: 'BR [%]', marca: 'punto', color: VERDE, vertical: true},
      {x: 561, y: 740, texto: 'Velocidad [km/h]'}
    ]
  });

// ---- VO2 y VCO2 en el tiempo
crearPanel([614, 36, 893, 276], [660, 50, 853, 233],
  {x: ejeTiempo(6), y: ejeY('left', 0, 5, 1), y2: ejeY('right', 0, 5, 1), yp: ejeOculto()},
  [
    traza(vo2T, vo2, AZUL, {borderWidth: 1.4}),
    traza(vco2T, vco2, '#e8262a', {yAxisID: 'y2', borderWidth: 1.4}),
    traza(regT, reg, NEGRO, {borderWidth: 2.4}),
    traza(predSupT, predSup, AZUL, {borderDash: [4, 3], borderWidth: 1.2, fill: '+1', backgroundColor: 'rgba(185,225,215,0.6)'}),
    traza(predInfT, predInf, AZUL, {borderDash: [4, 3], borderWidth: 1.2}),
    horizontal(0, 7.5, vo2Max, ROJO, [], 'y', {borderWidth: 1.4}),
    horizontal(0.71, 7.5, vo2Pred, AZUL, [4, 3]),
    vertical(tLL, 0, 3.62, NEGRO),
    vertical(tAT, 0, 4.1, ROJO),
    vertical(tUL, 0, 3.62, NEGRO),
    vertical(4.36, 0, 2.3, ROJO),
    vertical(4.45, 0, 2.3, ROJO),
    vertical(4.5, 2.5, 4.75, AZUL, 'y', [3, 2]),
    ...escalones()
  ],
  {
    banda: true,
    textos: [
      {x: 3.69, y: 4.86, texto: 'VO2/WR: 6,4 ml/min/W'},
      {x: 0.12, y: 3.59, texto: 'VO2', color: AZUL, alinear: 'left'},
      {x: 0.87, y: 3.77, texto: 'LL'},
      {x: tAT, y: 4.32, texto: 'AT', color: ROJO},
      {x: 3.92, y: 3.77, texto: 'UL'},
      {x: 4.5, y: 3.75, texto: 'RCP', color: ROJO, girar: true, tam: 10}
    ],
    titulos: [
      {x: 631, y: 47, texto: 'VO2 [l/min]', marca: 'linea', color: AZUL, vertical: true},
      {x: 888, y: 47, texto: 'VCO2 [l/min]', marca: 'linea', color: '#e8262a', vertical: true},
      {x: 857, y: 266, texto: 'Velocidad [km/h]'}
    ]
  });

// ---- Equivalentes ventilatorios
crearPanel([614, 278, 893, 512], [660, 287, 853, 470],
  {x: ejeTiempo(7), y: ejeY('left', 10, 60, 10), y2: ejeY('right', 10, 60, 10), yp: ejeOculto()},
  [
    traza(eqO2T, eqO2, AZUL, {borderWidth: 1.5}),
    traza(eqCO2T, eqCO2, '#e8302a', {yAxisID: 'y2', borderWidth: 1.5}),
    vertical(tAT, 10, 51.2, ROJO),
    vertical(tRCP, 10, 51.2, ROJO),
    ...escalones()
  ],
  {
    banda: true,
    textos: [
      {x: tAT, y: 53.3, texto: 'AT', color: ROJO},
      {x: tRCP, y: 53.3, texto: 'RCP', color: ROJO}
    ],
    titulos: [
      {x: 627, y: 283, texto: 'VE/VO2', marca: 'linea', color: AZUL, vertical: true},
      {x: 890, y: 283, texto: 'VE/VCO2', marca: 'linea', color: '#e8302a', vertical: true},
      {x: 858, y: 503, texto: 'Velocidad [km/h]'}
    ]
  });

// ---- Presiones teleespiratorias
crearPanel([614, 515, 893, 750], [660, 524, 853, 707],
  {x: ejeTiempo(5), y: ejeY('left', 0, 150, 50), y2: ejeY('right', 0, 150, 50), yp: ejeOculto()},
  [
    traza(peto2T, peto2, '#1e2a85', {borderWidth: 1.6}),
    traza(petco2T, petco2, MAGENTA, {yAxisID: 'y2', borderWidth: 1.4}),
    vertical(tAT, 0, 124.6, ROJO),
    vertical(tRCP, 0, 124.6, ROJO),
    ...escalones()
  ],
  {
    banda: true,
    menores: [{eje: 'y', paso: 25, mayor: 50}, {eje: 'y2', paso: 25, mayor: 50}],
    textos: [
      {x: tAT, y: 130, texto: 'AT', color: ROJO},
      {x: tRCP, y: 130, texto: 'RCP', color: ROJO}
    ],
    titulos: [
      {x: 621, y: 520, texto: 'PETO2 [mmHg]', marca: 'linea', color: '#1e2a85', vertical: true},
      {x: 891, y: 518, texto: 'PETCO2 [mmHg]', marca: 'linea', color: MAGENTA, vertical: true},
      {x: 857, y: 740, texto: 'Velocidad [km/h]'}
    ]
  });
</script>
</body>
</html>
